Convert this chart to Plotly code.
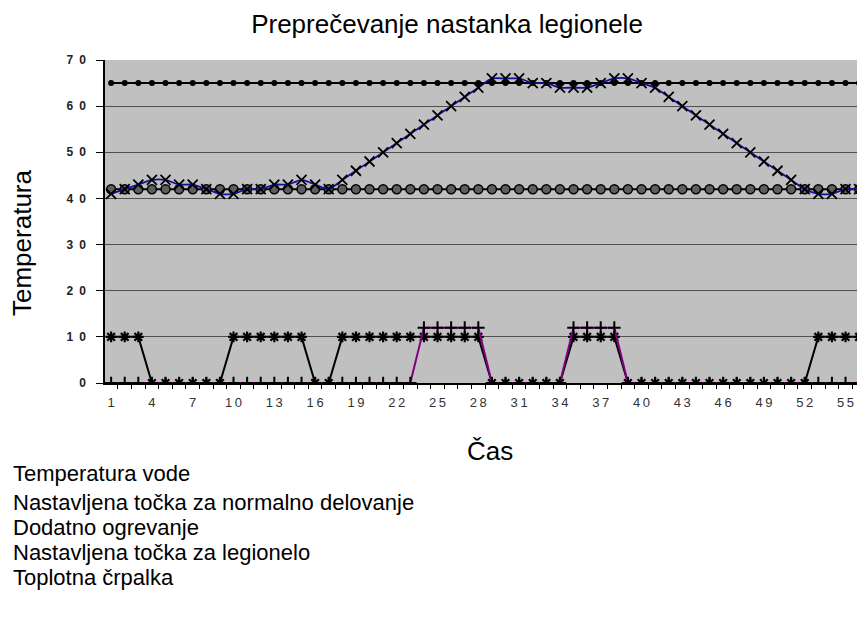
import plotly.graph_objects as go

# ---------------- data ----------------
cas = [1, 2, 3, 4, 5, 6, 7, 8, 9, 10, 11, 12, 13, 14, 15, 16, 17, 18, 19, 20,
       21, 22, 23, 24, 25, 26, 27, 28, 29, 30, 31, 32, 33, 34, 35, 36, 37, 38, 39, 40,
       41, 42, 43, 44, 45, 46, 47, 48, 49, 50, 51, 52, 53, 54, 55, 56]

temperatura_vode = [41, 42, 43, 44, 44, 43, 43, 42, 41, 41, 42, 42, 43, 43, 44, 43, 42, 44, 46, 48,
                    50, 52, 54, 56, 58, 60, 62, 64, 66, 66, 66, 65, 65, 64, 64, 64, 65, 66, 66, 65,
                    64, 62, 60, 58, 56, 54, 52, 50, 48, 46, 44, 42, 41, 41, 42, 42]

normalno = [42, 42, 42, 42, 42, 42, 42, 42, 42, 42, 42, 42, 42, 42, 42, 42, 42, 42, 42, 42,
            42, 42, 42, 42, 42, 42, 42, 42, 42, 42, 42, 42, 42, 42, 42, 42, 42, 42, 42, 42,
            42, 42, 42, 42, 42, 42, 42, 42, 42, 42, 42, 42, 42, 42, 42, 42]

dodatno = [0, 0, 0, 0, 0, 0, 0, 0, 0, 0, 0, 0, 0, 0, 0, 0, 0, 0, 0, 0,
           0, 0, 0, 12, 12, 12, 12, 12, 0, 0, 0, 0, 0, 0, 12, 12, 12, 12, 0, 0,
           0, 0, 0, 0, 0, 0, 0, 0, 0, 0, 0, 0, 0, 0, 0, 0]

legionela = [65, 65, 65, 65, 65, 65, 65, 65, 65, 65, 65, 65, 65, 65, 65, 65, 65, 65, 65, 65,
             65, 65, 65, 65, 65, 65, 65, 65, 65, 65, 65, 65, 65, 65, 65, 65, 65, 65, 65, 65,
             65, 65, 65, 65, 65, 65, 65, 65, 65, 65, 65, 65, 65, 65, 65, 65]

crpalka = [10, 10, 10, 0, 0, 0, 0, 0, 0, 10, 10, 10, 10, 10, 10, 0, 0, 10, 10, 10,
           10, 10, 10, 10, 10, 10, 10, 10, 0, 0, 0, 0, 0, 0, 10, 10, 10, 10, 0, 0,
           0, 0, 0, 0, 0, 0, 0, 0, 0, 0, 0, 0, 10, 10, 10, 10]

x_tick_vals = [1, 4, 7, 10, 13, 16, 19, 22, 25, 28, 31, 34, 37, 40, 43, 46, 49, 52, 55]
x_tick_text = ["1", "4", "7", "1\u20090", "1\u20093", "1\u20096", "1\u20099", "2\u20092",
               "2\u20095", "2\u20098", "3\u20091", "3\u20094", "3\u20097", "4\u20090",
               "4\u20093", "4\u20096", "4\u20099", "5\u20092", "5\u20095"]
y_tick_vals = [0, 10, 20, 30, 40, 50, 60, 70]
y_tick_text = ["0", "1\u20020", "2\u20020", "3\u20020", "4\u20020", "5\u20020", "6\u20020", "7\u20020"]

series_names = ["Temperatura vode",
                "Nastavljena točka za normalno delovanje",
                "Dodatno ogrevanje",
                "Nastavljena točka za legionelo",
                "Toplotna črpalka"]

title_text = "Preprečevanje nastanka legionele"
x_title = "Čas"
y_title = "Temperatura"

# ---------------- layout geometry ----------------
# the page has an 8px body margin, so the figure is drawn 8px right/down
OFF = 8
W, H = 865 - OFF, 630 - OFF
ML, MR, MT, MB = 105 - OFF, 0, 60 - OFF, 247
PW, PH = W - ML - MR, H - MT - MB


def px(xp):
    return (xp - OFF - ML) / PW


def py(yp):
    return (H - MB - (yp - OFF)) / PH


FONT = "Liberation Sans, Arial, sans-serif"

fig = go.Figure()

# Nastavljena točka za legionelo (65)
fig.add_trace(go.Scatter(
    x=cas, y=legionela, name=series_names[3], mode="lines+markers",
    line=dict(color="black", width=2),
    marker=dict(symbol="circle", size=6, color="black"),
    showlegend=False))

# Nastavljena točka za normalno delovanje (42)
fig.add_trace(go.Scatter(
    x=cas, y=normalno, name=series_names[1], mode="lines+markers",
    line=dict(color="black", width=2),
    marker=dict(symbol="circle", size=9, color="#5e5e5e",
                line=dict(color="black", width=1.5)),
    showlegend=False))

# Toplotna črpalka
fig.add_trace(go.Scatter(
    x=cas, y=crpalka, name=series_names[4], mode="lines+markers",
    line=dict(color="black", width=2),
    marker=dict(symbol="asterisk-open", size=9, color="black",
                line=dict(color="black", width=2.2)),
    showlegend=False))

# Dodatno ogrevanje
fig.add_trace(go.Scatter(
    x=cas, y=dodatno, name=series_names[2], mode="lines+markers",
    line=dict(color="#800080", width=2),
    marker=dict(symbol="cross-thin-open", size=9, color="black",
                line=dict(color="black", width=2)),
    showlegend=False))

# Temperatura vode
fig.add_trace(go.Scatter(
    x=cas, y=temperatura_vode, name=series_names[0], mode="lines+markers",
    line=dict(color="#10109a", width=1.8, shape="spline", smoothing=0.6),
    marker=dict(symbol="x-thin-open", size=10, color="black",
                line=dict(color="black", width=1.8)),
    showlegend=False))

annotations = []
# axis titles
annotations.append(dict(text=y_title, x=px(22), y=py(243), xref="paper", yref="paper",
                        textangle=-90, showarrow=False, xanchor="center", yanchor="middle",
                        font=dict(family=FONT, size=26, color="black")))
annotations.append(dict(text=x_title, x=px(490), y=py(451), xref="paper", yref="paper",
                        showarrow=False, xanchor="center", yanchor="middle",
                        font=dict(family=FONT, size=26, color="black")))
# legend texts (their symbols lie outside the visible page in the original)
legend_y = [473, 502, 527, 552, 577]
for name, ly in zip(series_names, legend_y):
    annotations.append(dict(text=name, x=px(12), y=py(ly), xref="paper", yref="paper",
                            showarrow=False, xanchor="left", yanchor="middle",
                            borderpad=0,
                            font=dict(family=FONT, size=22, color="black")))

fig.update_layout(
    width=W, height=H,
    margin=dict(l=ML, r=MR, t=MT, b=MB, autoexpand=False),
    paper_bgcolor="white",
    plot_bgcolor="#c0c0c0",
    font=dict(family=FONT, color="black"),
    title=dict(text=title_text, x=(447 - OFF) / W, xanchor="center", xref="container",
               y=1 - (24 - OFF) / H, yanchor="middle", yref="container",
               font=dict(family=FONT, size=26, color="black")),
    xaxis=dict(range=[0.55, 0.55 + PW / 13.6], tickmode="array", tickvals=x_tick_vals,
               ticktext=x_tick_text, ticks="", showgrid=False, zeroline=False,
               showline=True, linecolor="black", linewidth=1.5,
               tickfont=dict(family=FONT, size=13, color="#333"),
               ticklabelstandoff=7,
               minor=dict(tickmode="linear", tick0=0.5, dtick=1, ticks="outside",
                          ticklen=4, tickcolor="black", tickwidth=1, showgrid=False)),
    yaxis=dict(range=[0, 70], tickmode="array", tickvals=y_tick_vals,
               ticktext=y_tick_text, ticks="outside", ticklen=7, tickcolor="black",
               showgrid=True, gridcolor="#505050", gridwidth=1, zeroline=False,
               showline=True, linecolor="black", linewidth=1.5,
               tickfont=dict(family=FONT, size=12, color="#222", weight="bold"),
               ticklabelstandoff=8),
    annotations=annotations,
)

fig.write_html("out.html")
